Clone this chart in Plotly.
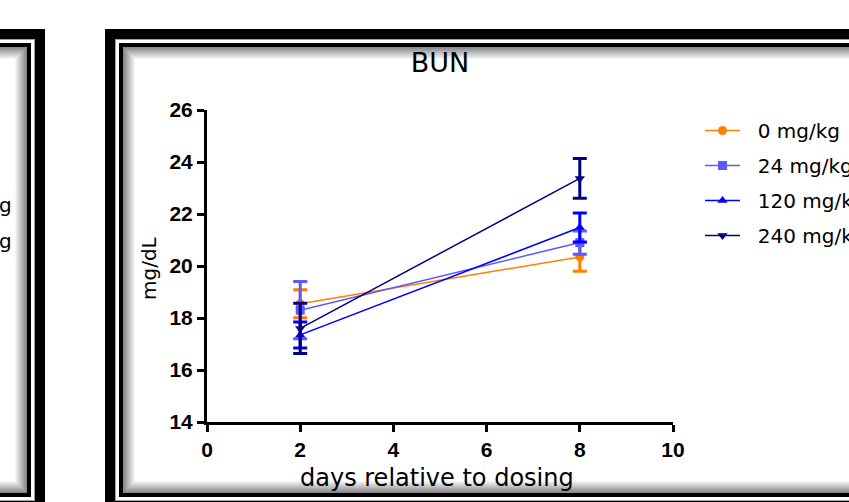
import plotly.graph_objects as go

W, H = 849, 502

# ---- data ----
days = [2, 8]
series_names = ["0 mg/kg", "24 mg/kg", "120 mg/kg", "240 mg/kg"]
bun_0 = [18.55, 20.35]
err_0 = [0.54, 0.55]
bun_24 = [18.3, 20.9]
err_24 = [1.1, 0.45]
bun_120 = [17.35, 21.48]
err_120 = [0.5, 0.56]
bun_240 = [17.6, 23.37]
err_240 = [0.97, 0.76]
x_ticks = [0, 2, 4, 6, 8, 10]
y_ticks = [14, 16, 18, 20, 22, 24, 26]
left_legend_tail = ["120 mg/kg", "240 mg/kg"]

colors = ["#FF8000", "#5A5AFF", "#0000FF", "#000080"]
symbols = ["circle", "square", "triangle-up", "triangle-down"]
means = [bun_0, bun_24, bun_120, bun_240]
errs = [err_0, err_24, err_120, err_240]


def px(x):
    return x / W


def py(y):
    return 1 - y / H


fig = go.Figure()
for name, m, e, c, s in zip(series_names, means, errs, colors, symbols):
    fig.add_trace(go.Scatter(
        x=days, y=m, name="\u00a0\u00a0" + name, mode="lines+markers",
        line=dict(color=c, width=1.5),
        marker=dict(color=c, symbol=s, size=9),
        error_y=dict(type="data", array=e, visible=True, color=c,
                     thickness=3, width=7),
        legendgroup=name,
        cliponaxis=False,
    ))

# ---- frames (Prism-like 3D boxes) ----
shapes = []


def rect(x0, y0, x1, y1, color):
    shapes.append(dict(type="rect", xref="paper", yref="paper",
                       x0=px(x0), x1=px(x1), y0=py(y1), y1=py(y0),
                       fillcolor=color, line=dict(width=0), layer="below"))


def frame(x0, y0, x1, y1):
    rect(x0, y0, x1, y1, "#000000")
    rect(x0 + 10, y0 + 10, x1 - 10, y1 - 10, "#a0a0a0")
    rect(x0 + 11, y0 + 11, x1 - 11, y1 - 11, "#ffffff")
    rect(x0 + 14, y0 + 14, x1 - 14, y1 - 14, "#000000")
    n = 12
    for i in range(n):
        lvl = int(125 + (255 - 125) * (i + 1) / (n + 1))
        col = "rgb(%d,%d,%d)" % (lvl, lvl, lvl)
        d = 18 + i
        rect(x0 + d, y0 + d, x1 - d, y1 - d, col)
    d = 18 + n
    rect(x0 + d, y0 + d, x1 - d, y1 - d, "#ffffff")


frame(-300, 29, 45, 511)
frame(105, 29, 880, 511)

annotations = [
    dict(text="mg/dL", xref="paper", yref="paper", x=px(149), y=py(268),
         textangle=-90, showarrow=False, xanchor="center", yanchor="middle",
         font=dict(family="DejaVu Sans", size=20, color="black")),
    dict(text="days relative to dosing", xref="paper", yref="paper",
         x=px(437), y=py(478), showarrow=False, xanchor="center",
         yanchor="middle",
         font=dict(family="DejaVu Sans", size=24, color="black")),
]
for i, t in enumerate(left_legend_tail):
    annotations.append(dict(text=t, xref="paper", yref="paper", x=px(14),
                            y=py(205 + 36 * i), showarrow=False,
                            xanchor="right", yanchor="middle",
                            font=dict(family="DejaVu Sans", size=20,
                                      color="black")))

tickfont = dict(family="Liberation Sans", size=21, color="black",
                weight="bold")

fig.update_layout(
    width=W, height=H,
    margin=dict(l=0, r=0, t=0, b=0, autoexpand=False),
    paper_bgcolor="white", plot_bgcolor="rgba(0,0,0,0)",
    shapes=shapes, annotations=annotations,
    title=dict(text="BUN", x=px(440), y=py(63), xanchor="center",
               yanchor="middle", xref="paper", yref="paper",
               font=dict(family="DejaVu Sans", size=27, color="black")),
    xaxis=dict(domain=[px(207), px(673)], range=[0, 10], tickvals=x_ticks,
               showgrid=False, zeroline=False, showline=True,
               linecolor="black", linewidth=3, ticks="outside", ticklen=7,
               tickwidth=3, tickcolor="black", tickfont=tickfont),
    yaxis=dict(domain=[py(422), py(110)], range=[14, 26], tickvals=y_ticks,
               showgrid=False, zeroline=False, showline=True,
               linecolor="black", linewidth=3, ticks="outside", ticklen=7,
               tickwidth=3, tickcolor="black", tickfont=tickfont),
    legend=dict(x=px(700), y=py(111), xanchor="left", yanchor="top",
                bgcolor="rgba(0,0,0,0)", borderwidth=0, itemwidth=35,
                tracegroupgap=6,
                font=dict(family="DejaVu Sans", size=20, color="black")),
    showlegend=True,
)

fig.write_html(
    "out.html",
    config={"displayModeBar": False},
    post_script="document.body.style.margin='0px';"
                "document.body.style.overflow='hidden';",
)
